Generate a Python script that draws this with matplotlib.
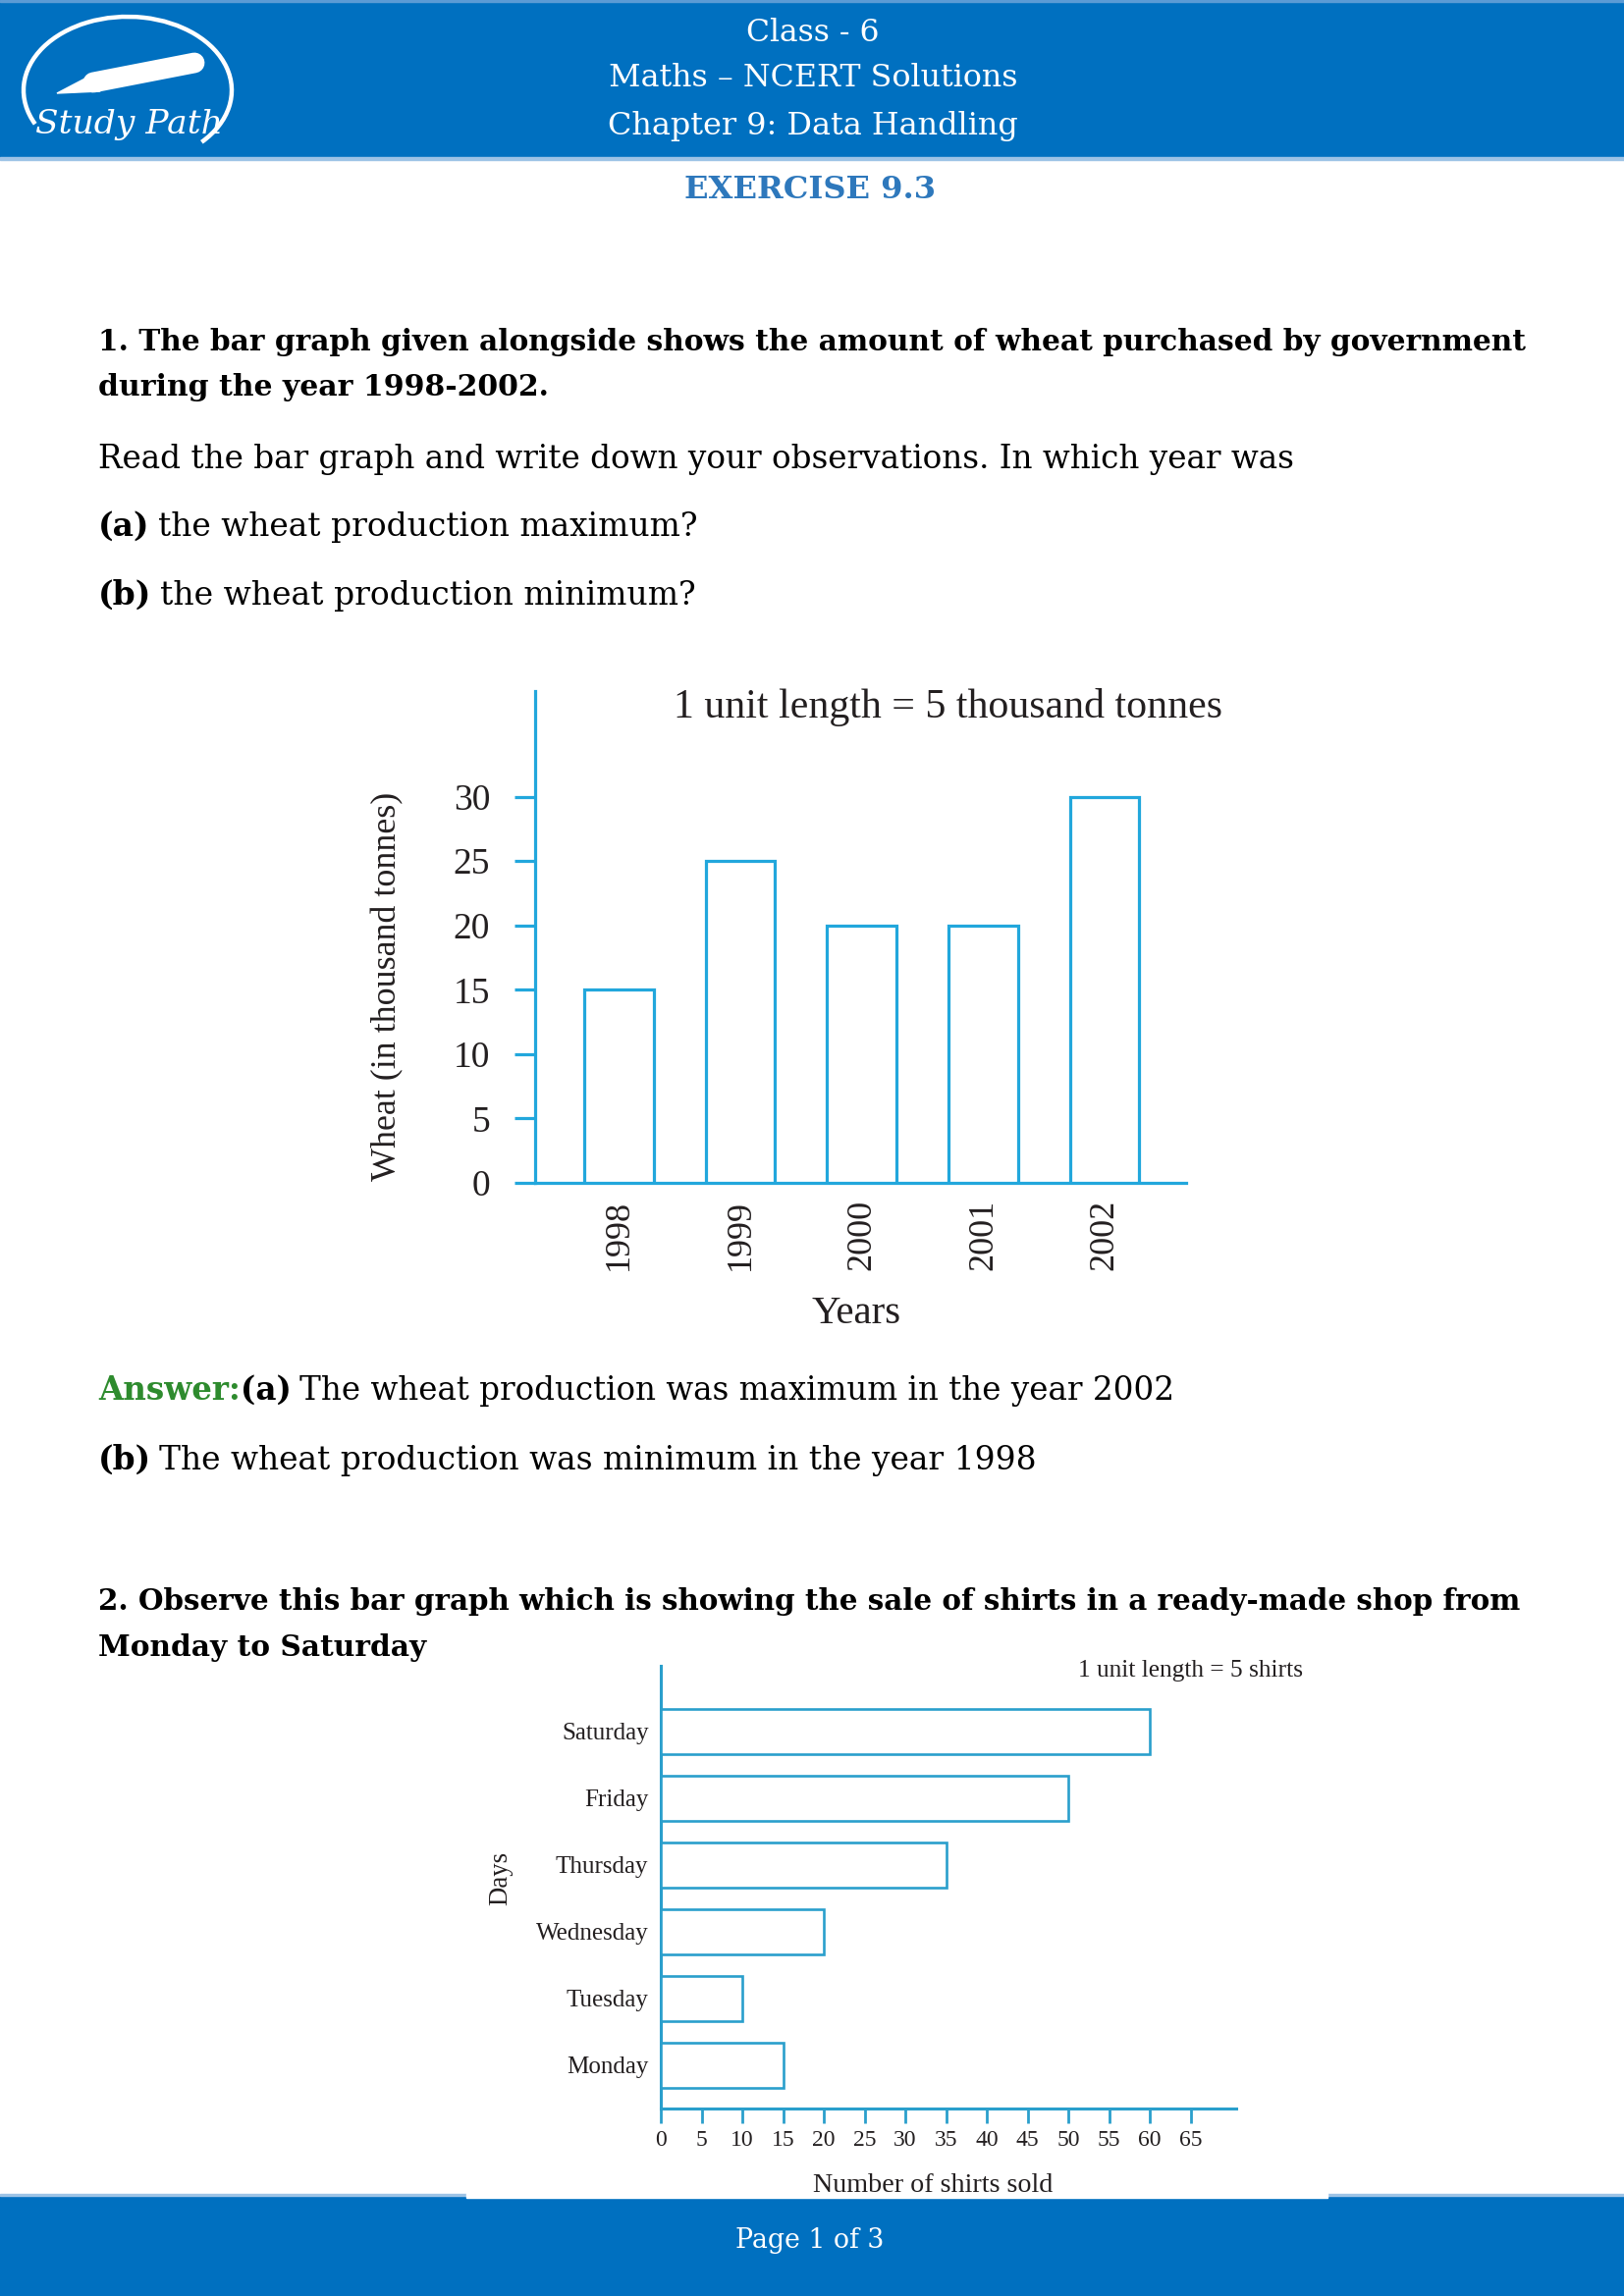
import matplotlib
matplotlib.use("Agg")
import matplotlib.pyplot as plt
from matplotlib.patches import Rectangle, Arc, Polygon

# ---------------- data ----------------
years = ["1998", "1999", "2000", "2001", "2002"]
wheat = [15, 25, 20, 20, 30]
wheat_ticks = [0, 5, 10, 15, 20, 25, 30]

days = ["Monday", "Tuesday", "Wednesday", "Thursday", "Friday", "Saturday"]
shirts = [15, 10, 20, 35, 50, 60]
shirt_ticks = [0, 5, 10, 15, 20, 25, 30, 35, 40, 45, 50, 55, 60, 65]

# ---------------- style ----------------
W, H = 1654, 2339
BAND = "#0070C0"
CH1 = "#22A7DC"
CH2 = "#2A9FCC"
INK = "#231F20"
GREEN = "#2E8B2E"
EXBLUE = "#2E78BC"
BODY = "DejaVu Serif"
CHART = "Liberation Serif"

fig = plt.figure(figsize=(W / 100, H / 100), dpi=100)
bg = fig.add_axes([0, 0, 1, 1])
bg.set_xlim(0, W)
bg.set_ylim(H, 0)
bg.axis("off")
renderer = fig.canvas.get_renderer()


def ext(t):
    return t.get_window_extent(renderer=renderer)


def fit(t, w=None, h=None):
    bb = ext(t)
    if w is not None:
        t.set_fontsize(t.get_fontsize() * w / bb.width)
    elif h is not None:
        t.set_fontsize(t.get_fontsize() * h / bb.height)
    return t


def line(pieces, x, y, target_w, size=20):
    """pieces: list of (text, kwargs, gap_em_after)."""
    texts = [bg.text(0, y, s, fontsize=size, ha="left", va="baseline", **kw)
             for s, kw, g in pieces]
    total = sum(ext(t).width for t in texts) + sum(g * size * 100 / 72 for _, _, g in pieces)
    k = target_w / total
    size2 = size * k
    for t in texts:
        t.set_fontsize(size2)
    cx = x
    for t, (s, kw, g) in zip(texts, pieces):
        t.set_x(cx)
        cx += ext(t).width + g * size2 * 100 / 72
    return texts


# ---------------- header band ----------------
bg.add_patch(Rectangle((0, 0), W, 161, color=BAND, zorder=1))
bg.add_patch(Rectangle((0, 0), W, 2, color="#5B9BD5", zorder=2))
bg.add_patch(Rectangle((0, 160), W, 2.5, color="#9DC3E6", zorder=2))

for s, y, w in [("Class - 6", 33, 136), ("Maths – NCERT Solutions", 80, 418),
                ("Chapter 9: Data Handling", 129, 418)]:
    t = bg.text(828, y, s, color="white", family=BODY, fontsize=24,
                ha="center", va="center", zorder=3)
    fit(t, w=w)

# logo
bg.add_patch(Arc((130, 92), 212, 150, theta1=160, theta2=35, color="white",
                 lw=3.2, zorder=3))
bg.plot([95, 198], [84, 64], color="white", lw=15, solid_capstyle="round", zorder=3)
bg.add_patch(Polygon([[58, 95], [98, 74], [102, 93]], closed=True, color="white", zorder=3))
t = bg.text(131, 127, "Study Path", color="white", family="DejaVu Serif",
            style="italic", fontsize=22, ha="center", va="center", zorder=4)
fit(t, w=190)

# exercise title
t = bg.text(825, 193, "EXERCISE 9.3", color=EXBLUE, family=BODY, weight="bold",
            fontsize=24, ha="center", va="center")
fit(t, w=257)

# ---------------- body text ----------------
B = dict(family=BODY, weight="bold", color="black")
R = dict(family=BODY, color="black")
G = dict(family=BODY, weight="bold", color=GREEN)

line([("1. The bar graph given alongside shows the amount of wheat purchased by government", B, 0)],
     100, 357, 1451)
line([("during the year 1998-2002.", B, 0)], 100, 403, 459)
line([("Read the bar graph and write down your observations. In which year was", R, 0)],
     100, 477, 1216)
line([("(a)", B, 0.25), ("the wheat production maximum?", R, 0)], 100, 546, 610)
line([("(b)", B, 0.25), ("the wheat production minimum?", R, 0)], 100, 616, 607)
line([("Answer:", G, 0), ("(a)", B, 0.25),
      ("The wheat production was maximum in the year 2002", R, 0)], 100, 1426, 1096)
line([("(b)", B, 0.25), ("The wheat production was minimum in the year 1998", R, 0)],
     100, 1497, 956)
line([("2. Observe this bar graph which is showing the sale of shirts in a ready-made shop from", B, 0)],
     100, 1640, 1448)
line([("Monday to Saturday", B, 0)], 100, 1687, 334)

# ---------------- footer ----------------
bg.add_patch(Rectangle((0, 2237), W, H - 2237, color=BAND, zorder=1))
bg.add_patch(Rectangle((0, 2235), W, 2, color="#9DC3E6", zorder=2))
bg.add_patch(Rectangle((475, 2234), 877, 5, color="white", zorder=3))
t = bg.text(825, 2283, "Page 1 of 3", color="white", family=BODY, fontsize=18,
            ha="center", va="center", zorder=4)
fit(t, w=151)


# ---------------- chart 1 ----------------
def box(l, t_, r, b):
    return [l / W, 1 - b / H, (r - l) / W, (b - t_) / H]


ax1 = fig.add_axes(box(545, 704, 1208, 1205))
ax1.patch.set_alpha(0)
x1 = list(range(len(years)))
ax1.bar(x1, wheat, width=0.57, facecolor="white", edgecolor=CH1, linewidth=2.3, zorder=3)
ax1.set_xlim(-0.69, 4.67)
ax1.set_ylim(0, 38.2)
for sp in ["top", "right"]:
    ax1.spines[sp].set_visible(False)
for sp in ["left", "bottom"]:
    ax1.spines[sp].set_color(CH1)
    ax1.spines[sp].set_linewidth(2.3)
ax1.set_yticks(wheat_ticks)
ax1.set_yticklabels([str(v) for v in wheat_ticks], family=CHART, fontsize=27, color=INK)
ax1.tick_params(axis="y", direction="out", length=15, width=2.3, color=CH1, pad=18)
ax1.set_xticks(x1)
ax1.set_xticklabels(years, rotation=90, family=CHART, fontsize=26, color=INK)
ax1.tick_params(axis="x", length=0, pad=12)
ylab = ax1.set_ylabel("Wheat (in thousand tonnes)", family=CHART, fontsize=26, color=INK,
                      va="center", ha="center")
ax1.yaxis.set_label_coords(-0.226, 0.40)
xlab = ax1.set_xlabel("Years", family=CHART, fontsize=28, color=INK, va="center")
ax1.xaxis.set_label_coords(0.493, -0.267)
fit(ylab, h=395)
fit(xlab, w=91)
t = bg.text(965, 721, "1 unit length = 5 thousand tonnes", family=CHART, color=INK,
            fontsize=28, ha="center", va="center")
fit(t, w=558)

# ---------------- chart 2 ----------------
ax2 = fig.add_axes(box(673, 1697, 1259, 2148))
ax2.patch.set_alpha(0)
y2 = list(range(len(days)))
ax2.barh(y2, shirts, height=0.68, facecolor="white", edgecolor=CH2, linewidth=1.9, zorder=3)
ax2.set_xlim(0, 70.6)
ax2.set_ylim(-0.65, 5.98)
for sp in ["top", "right"]:
    ax2.spines[sp].set_visible(False)
for sp in ["left", "bottom"]:
    ax2.spines[sp].set_color(CH2)
    ax2.spines[sp].set_linewidth(2.2)
ax2.set_xticks(shirt_ticks)
ax2.set_xticklabels([str(v) for v in shirt_ticks], family=CHART, fontsize=17, color=INK)
ax2.tick_params(axis="x", direction="out", length=11, width=2.0, color=CH2, pad=5)
ax2.set_yticks(y2)
ax2.set_yticklabels(days, family=CHART, fontsize=18, color=INK)
ax2.tick_params(axis="y", length=0, pad=9)
ylab2 = ax2.set_ylabel("Days", family=CHART, fontsize=19, color=INK, va="center", ha="center")
ax2.yaxis.set_label_coords(-0.278, 0.519)
xlab2 = ax2.set_xlabel("Number of shirts sold", family=CHART, fontsize=18, color=INK, va="center")
ax2.xaxis.set_label_coords(0.473, -0.173)
fit(ylab2, h=55)
fit(xlab2, w=245)
t = bg.text(1213, 1702, "1 unit length = 5 shirts", family=CHART, color=INK,
            fontsize=17, ha="center", va="center")
fit(t, w=230)

fig.savefig("out.png", dpi=100)
